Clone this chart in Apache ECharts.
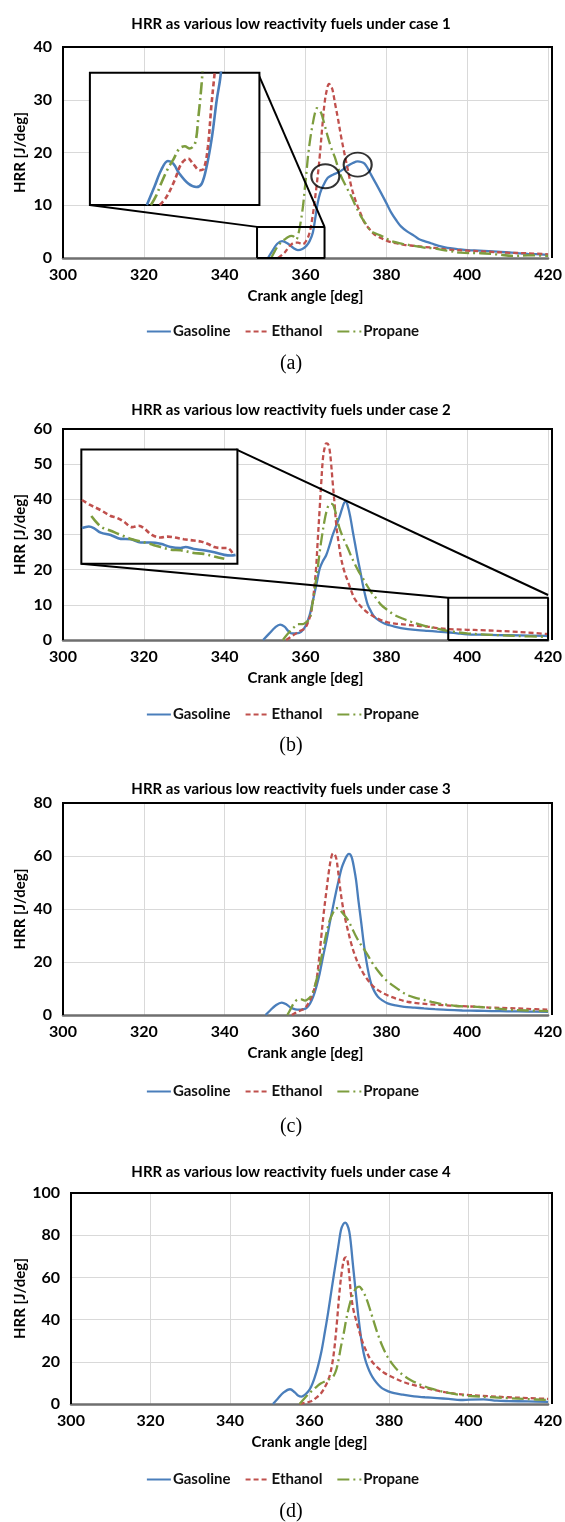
<!DOCTYPE html>
<html><head><meta charset="utf-8">
<script src="https://cdn.jsdelivr.net/npm/echarts@6/dist/echarts.min.js"></script>
<style>html,body{margin:0;padding:0;background:#fff}#c{width:565px;height:1522px}</style>
</head><body><div id="c"></div>
<script>
// ---------- tick / axis values ----------
const xTicks = [300, 320, 340, 360, 380, 400, 420];
const yMaxes = [40, 60, 80, 100];
const yIntervals = [10, 10, 20, 20];
const seriesNames = ['Gasoline', 'Ethanol', 'Propane'];
const titles = [
  'HRR as various low reactivity fuels under case 1',
  'HRR as various low reactivity fuels under case 2',
  'HRR as various low reactivity fuels under case 3',
  'HRR as various low reactivity fuels under case 4'
];
const panelLabels = ['(a)', '(b)', '(c)', '(d)'];

// ---------- case 1 ----------
const gasolineA = [[350.7,0],[352,1.6],[353,2.7],[354.2,3.2],[355.5,2.8],[357,1.9],[358.1,1.5],[359.2,1.7],[360.2,2.3],[361,3.2],[361.8,4.8],[362.4,7.5],[363,10.4],[363.6,12.3],[364.3,13.6],[365.5,15.2],[366.8,15.8],[368,16.2],[369.3,16.8],[370.5,17.5],[371.7,18.0],[372.9,18.3],[373.8,18.2],[374.6,17.9],[375.4,17.0],[376.2,15.8],[377.5,14.0],[378.7,12.3],[380,10.4],[381.2,8.6],[382.4,7.2],[383.6,6.0],[385.2,5.0],[386.9,4.2],[388,3.6],[389.4,3.2],[390.6,2.9],[391.8,2.6],[393.5,2.2],[395.1,1.9],[397.5,1.7],[400,1.5],[403,1.4],[407.5,1.2],[411,1.0],[415,0.8],[420,0.6]];
const ethanolA = [[353.2,0],[354.8,1.0],[355.7,1.9],[356.5,2.6],[357.3,2.9],[358.1,2.9],[359.3,2.6],[360.2,3.3],[361,4.8],[361.6,7.2],[362.2,10.4],[362.9,14.8],[363.5,19.2],[364.1,24.5],[364.7,29.3],[365.3,32.0],[365.8,33.0],[366.3,32.6],[366.7,31.8],[367.3,29.3],[368,26.5],[368.8,23.0],[369.6,19.9],[370.5,16.6],[371.3,13.6],[372.1,11.5],[372.9,9.8],[373.8,8.1],[374.6,6.7],[375.8,5.5],[377,4.5],[378.6,3.8],[380.3,3.2],[382.3,2.8],[384.4,2.5],[387,2.3],[389.4,2.1],[392,1.9],[395.1,1.6],[400,1.4],[405,1.2],[410,1.0],[415,0.9],[420,0.7]];
const propaneA = [[351.5,0],[352.4,1.3],[353.2,2.3],[354,3.0],[354.8,3.5],[355.7,4.0],[356.5,4.2],[357.2,4.0],[357.7,3.5],[358.3,4.8],[358.9,7.3],[359.4,10.0],[359.8,13.0],[360.2,16.0],[360.6,19.2],[361.2,22.8],[361.8,25.5],[362.3,27.4],[362.8,28.4],[363.3,28.2],[363.9,27.4],[364.7,25.3],[365.5,23.0],[366.3,21.0],[367.2,19.2],[368,17.3],[368.8,15.5],[370,13.6],[371.3,11.7],[372.5,9.7],[373.7,7.9],[375,6.4],[376.2,5.1],[377.5,4.6],[378.7,4.2],[380,3.7],[381.2,3.2],[384,2.7],[386.9,2.3],[389,2.0],[391.8,1.8],[395,1.4],[398.4,1.0],[403.3,0.9],[407,0.7],[411.6,0.4],[415,0.5],[420,0.4]];
// case 1 magnified inset (x 342-367, y 0-10)
const insetGasolineA = [[350.4,0],[351.5,1.36],[352.5,2.63],[353.5,3.33],[354.3,3.13],[355.2,2.37],[356.5,1.62],[357.7,1.36],[358.5,1.62],[359.2,2.88],[360,5.15],[360.7,7.93],[361.2,9.5],[361.5,11]];
const insetEthanolA = [[352.3,0],[353.3,0.61],[354.5,1.87],[355.5,3.13],[356.5,3.51],[357.2,3.13],[358.2,2.63],[358.8,2.75],[359.4,4.39],[359.9,7.42],[360.4,10],[360.6,11]];
const insetPropaneA = [[351.0,0],[351.8,0.73],[352.5,1.62],[353.5,2.75],[354.3,3.43],[355.2,4.27],[356.0,4.44],[356.7,4.27],[357.5,4.65],[358.0,6.67],[358.5,9.32],[358.7,11]];
const insetRangeA = [342, 367, 0, 10];
const insetBoxA = [306.6, 348.2, 10.05, 35.1];      // where the inset sits (data coords of main plot)
const zoomBoxA = [348, 364.7, 0, 5.9];               // region being magnified
const circlesA = [[364.9, 15.5], [372.9, 17.7]];

// ---------- case 2 ----------
const gasolineB = [[349.5,0],[351,1.8],[352.5,3.6],[353.7,4.4],[354.8,3.8],[355.7,2.6],[356.5,1.9],[357.8,1.9],[358.9,2.3],[360,4.0],[361,7.0],[361.6,10.0],[362.2,13.2],[362.9,17.0],[363.5,20.3],[364.3,22.5],[365.1,24.1],[365.9,26.8],[366.7,29.8],[367.6,32.5],[368.4,35.0],[369,37.2],[369.6,39.1],[370,39.3],[370.5,37.9],[371.1,34.8],[371.7,30.8],[372.3,27.0],[372.9,23.2],[373.6,19.2],[374.2,15.6],[374.8,12.5],[375.4,10.0],[376.2,8.1],[377,6.6],[378.2,5.5],[379.5,4.7],[380.8,4.2],[382,3.8],[383.6,3.4],[385.3,3.1],[387.8,2.8],[390.2,2.6],[392.6,2.4],[395.1,2.2],[397.5,1.9],[400,1.6],[403.5,1.5],[407.5,1.4],[413,1.3],[420,1.2]];
const ethanolB = [[355.2,0],[356.2,0.8],[357.3,1.6],[358.5,2.5],[359.8,3.3],[360.6,5.0],[361.4,8.0],[362,13.0],[362.6,20.3],[363,28.0],[363.5,37.4],[363.9,45.0],[364.3,51.6],[364.7,54.5],[365.1,55.9],[365.5,55.8],[365.9,54.5],[366.3,50.5],[366.7,45.0],[367.2,38.5],[367.6,32.7],[368.2,27.5],[368.8,23.2],[369.6,19.5],[370.5,16.6],[371.3,14.0],[372.1,11.8],[373.3,10.0],[374.6,8.5],[375.8,7.4],[377,6.6],[378.6,5.7],[380.3,5.0],[382.8,4.6],[385.3,4.3],[387.8,4.0],[390.2,3.8],[392.6,3.4],[395.1,3.1],[397.5,3.0],[400,2.9],[403.5,2.8],[407.5,2.6],[411,2.4],[415,2.1],[420,1.7]];
const propaneB = [[354.4,0],[355.2,1.2],[356.1,2.4],[357.1,3.6],[358.1,4.5],[359.3,4.5],[360.2,5.1],[361,6.0],[361.6,9.5],[362.2,14.0],[362.9,19.5],[363.5,25.0],[364.1,29.8],[364.7,34.0],[365.3,37.0],[365.9,38.6],[366.5,38.7],[367,38.0],[367.7,35.0],[368.4,31.8],[369.4,28.8],[370.5,26.0],[371.3,23.8],[372.1,21.8],[373.1,19.6],[374.2,17.5],[375.2,15.5],[376.2,13.7],[377.5,11.8],[378.7,10.0],[380.3,8.5],[382,7.1],[384,6.1],[386.1,5.2],[388,4.5],[390.2,3.8],[392.6,3.2],[395.1,2.6],[397.5,2.2],[400,1.9],[403.5,1.6],[407.5,1.4],[413,1.1],[420,0.9]];
// case 2 magnified inset (x 395-420, y 1-4.5)
const insetEthanolB = [[395.1,2.95],[396.4,2.80],[398.1,2.64],[399.7,2.46],[400.5,2.42],[401.8,2.29],[403.1,2.12],[404.2,2.16],[405.0,2.09],[406.3,1.88],[407.7,1.80],[408.8,1.83],[409.8,1.81],[411.4,1.75],[413.0,1.71],[414.1,1.68],[415.2,1.61],[416.3,1.51],[417.3,1.48],[418.4,1.48],[419.2,1.33]];
const insetGasolineB = [[395.1,2.09],[396.2,2.14],[397.0,2.09],[398.1,1.95],[399.7,1.88],[401.3,1.76],[402.9,1.75],[404.5,1.65],[406.1,1.65],[407.7,1.61],[409.3,1.51],[410.9,1.48],[411.7,1.51],[413.0,1.45],[414.6,1.41],[416.3,1.35],[417.9,1.27],[419.0,1.25],[419.7,1.27]];
const insetPropaneB = [[396.6,2.46],[398.1,2.14],[399.7,2.01],[401.3,1.88],[403.1,1.75],[405.5,1.63],[407.7,1.51],[409.3,1.43],[410.9,1.41],[413.0,1.33],[414.6,1.30],[416.3,1.22],[417.9,1.15]];
const insetRangeB = [395, 420, 1, 4.5];
const insetBoxB = [304.5, 342.8, 21.7, 54.2];
const zoomBoxB = [395.3, 420, 0, 12];
const connectorEndB = [420, 12.8];

// ---------- case 3 ----------
const gasolineC = [[350.1,0],[351.3,1.8],[352.5,3.5],[354.1,4.7],[355.3,4.0],[356.3,2.8],[357.5,2.1],[358.5,2.0],[359.4,2.2],[360.2,2.6],[361.1,4.3],[361.9,6.9],[362.7,10.8],[363.5,15.7],[364.3,21.8],[365.2,28.3],[366,34.8],[366.8,40.9],[367.6,46.8],[368.4,52.2],[369,55.8],[369.7,58.5],[370.2,60.0],[370.7,60.8],[371.1,60.5],[371.5,59.1],[372,55.5],[372.5,50.9],[373.1,43.0],[373.8,34.6],[374.4,27.0],[375,20.8],[375.6,15.8],[376.2,11.9],[377,9.0],[377.9,6.9],[379,5.5],[380.3,4.4],[382.3,3.6],[384.4,3.1],[387,2.8],[389.3,2.5],[392,2.2],[395.1,1.9],[398.8,1.7],[402.5,1.6],[406,1.5],[410,1.4],[415,1.3],[420,1.2]];
const ethanolC = [[356.6,0],[357.5,0.8],[358.6,1.6],[359.8,2.5],[360.6,4.2],[361.5,6.9],[362.1,9.5],[362.7,13.2],[363.3,20.5],[363.9,29.6],[364.5,38.5],[365.2,47.2],[365.8,54.5],[366.4,59.7],[366.8,61.0],[367.2,60.6],[367.6,59.1],[368,55.0],[368.4,49.7],[369,43.0],[369.7,37.1],[370.5,31.8],[371.3,27.0],[372.1,23.0],[373,19.5],[374.2,16.0],[375.4,13.2],[376.6,11.0],[377.9,9.4],[379.5,8.0],[381.1,6.9],[383,5.9],[385.2,5.0],[388,4.4],[391,4.0],[394,3.7],[397.5,3.4],[402.5,3.1],[406,2.8],[410,2.6],[415,2.3],[420,2.0]];
const propaneC = [[355.5,0],[356.3,2.2],[357.2,4.6],[358.2,5.9],[359,5.9],[359.8,5.4],[360.6,6.0],[361.5,7.5],[362.3,11.0],[363.1,15.7],[363.7,20.0],[364.3,24.5],[365.1,30.5],[366,35.8],[366.8,38.6],[367.6,40.3],[368.2,40.2],[368.9,39.0],[369.7,37.5],[370.5,35.8],[371.5,32.8],[372.5,29.6],[373.5,27.0],[374.6,24.5],[375.6,22.0],[376.6,19.5],[378,16.5],[379.5,13.8],[380.7,12.2],[382,10.7],[383.6,9.0],[385.2,7.5],[387.2,6.5],[389.3,5.7],[391.3,4.9],[393.4,4.2],[395.5,3.8],[397.5,3.4],[400,3.2],[402.5,3.1],[406,2.6],[410,2.0],[415,1.7],[420,1.5]];

// ---------- case 4 ----------
const gasolineD = [[350.8,0],[352,2.5],[353.5,5.5],[355.1,7.0],[356.3,5.5],[357.1,4.0],[358,3.5],[358.8,4.3],[359.6,5.8],[360.4,8.2],[361.2,12.0],[362.1,17.7],[363,25.0],[363.8,33.5],[364.6,42.5],[365.4,52.4],[366.1,61.0],[366.7,68.2],[367.3,75.5],[367.9,82.5],[368.5,85.3],[369,86.0],[369.5,84.8],[370,81.7],[370.4,76.0],[370.8,68.2],[371.4,57.0],[372.1,44.5],[372.7,35.0],[373.3,27.2],[373.9,21.8],[374.6,17.7],[375.4,14.2],[376.3,11.4],[377.3,9.1],[378.3,7.4],[379.8,6.0],[381.3,5.1],[383.5,4.4],[386.3,3.6],[389,3.2],[392.1,2.8],[395,2.4],[398,1.9],[400.4,2.1],[403.8,2.2],[407.1,1.6],[410,1.4],[415,1.2],[420,1.0]];
const ethanolD = [[357.5,0],[359,0.6],[360.4,1.3],[361.7,3.0],[362.9,5.1],[364,8.5],[365,13.0],[365.7,19.0],[366.3,27.2],[366.9,39.0],[367.5,52.4],[368.1,62.5],[368.75,69.0],[369.2,69.5],[369.6,67.5],[370,61.0],[370.4,52.4],[371,45.0],[371.7,39.8],[372.5,34.5],[373.3,29.5],[374.3,25.0],[375.4,20.9],[377,17.5],[378.75,14.8],[380.5,13.0],[382.1,11.6],[384,10.2],[386.3,8.9],[388.5,7.8],[391,6.8],[394,5.6],[397,4.8],[400,4.3],[405,3.7],[410,3.2],[415,2.8],[420,2.4]];
const propaneD = [[357.5,0],[358.75,2.7],[359.8,4.8],[360.8,6.6],[361.9,8.4],[362.9,9.8],[364.2,11.0],[365.4,12.2],[366.1,13.5],[366.7,16.1],[367.3,21.0],[367.9,27.2],[368.6,33.5],[369.2,39.8],[369.8,45.0],[370.4,49.3],[371,52.3],[371.7,54.8],[372.5,55.6],[373.1,54.5],[373.75,52.4],[374.4,49.5],[375,46.1],[376,40.0],[377.1,33.5],[378.3,27.5],[379.6,22.4],[380.8,19.0],[382.1,16.1],[383.7,13.5],[385.4,11.4],[387.8,9.2],[390.4,7.4],[393,6.1],[395.4,5.1],[398,4.3],[400.4,3.8],[405,3.3],[410,2.8],[415,2.3],[420,1.9]];

// ---------- layout / style ----------
const FONT = 'Lato, "Open Sans", sans-serif';
const COLORS = ['#4a7ebb', '#c0504d', '#7d9d3e'];
const DASH = ['solid', [5, 3], [12, 4, 2, 4]];
const LW = 2.3;
const grids = [
  {left: 63, top: 47,   width: 489, height: 211},
  {left: 63, top: 429,  width: 489, height: 211},
  {left: 63, top: 803,  width: 489, height: 212},
  {left: 71, top: 1193, width: 481, height: 211}
];
const titleY = [12, 398, 777, 1160];
const legendY = [319, 702, 1079, 1467];
const labelY = [349, 731, 1112, 1497];
const panelData = [[gasolineA, ethanolA, propaneA], [gasolineB, ethanolB, propaneB], [gasolineC, ethanolC, propaneC], [gasolineD, ethanolD, propaneD]];

function toPx(g, ymax, x, y) {
  return [g.left + (x - xTicks[0]) / (xTicks[xTicks.length - 1] - xTicks[0]) * g.width,
          g.top + (ymax - y) / ymax * g.height];
}

const option = {
  animation: false,
  backgroundColor: '#fff',
  title: [], legend: [], grid: [], xAxis: [], yAxis: [], series: [], graphic: []
};

const axisText = {fontFamily: FONT, fontWeight: 'bold', color: '#000'};

grids.forEach((g, i) => {
  option.grid.push({left: g.left, top: g.top, width: g.width, height: g.height, show: false});
  option.xAxis.push({
    gridIndex: i, type: 'value', min: xTicks[0], max: xTicks[xTicks.length - 1], interval: 20,
    axisLine: {show: true, onZero: false, lineStyle: {color: '#6f6f6f', width: 2.5}},
    axisTick: {show: false},
    axisLabel: Object.assign({fontSize: 16, margin: 9}, axisText),
    splitLine: {show: true, lineStyle: {color: '#d9d9d9', width: 1}},
    name: 'Crank angle [deg]', nameLocation: 'middle', nameGap: 31, nameMoveOverlap: false,
    nameTextStyle: Object.assign({fontSize: 15}, axisText)
  });
  option.yAxis.push({
    gridIndex: i, type: 'value', min: 0, max: yMaxes[i], interval: yIntervals[i],
    axisLine: {show: false}, axisTick: {show: false},
    axisLabel: Object.assign({fontSize: 16, margin: 11}, axisText),
    splitLine: {show: true, lineStyle: {color: '#d9d9d9', width: 1}},
    name: 'HRR [J/deg]', nameLocation: 'middle', nameGap: g.left - 28, nameMoveOverlap: false,
    nameTextStyle: Object.assign({fontSize: 15}, axisText)
  });
  option.title.push({
    text: titles[i], left: 286, top: titleY[i], textAlign: 'center',
    textStyle: {fontFamily: FONT, fontWeight: 'bold', fontSize: 15, color: '#000'}
  });
  option.title.push({
    text: panelLabels[i], left: 286, top: labelY[i], textAlign: 'center',
    textStyle: {fontFamily: '"Liberation Serif", "Times New Roman", serif', fontWeight: 'normal', fontSize: 20, color: '#000'}
  });
  option.legend.push({
    data: seriesNames, top: legendY[i], left: 'center', itemWidth: 24, itemHeight: 12, itemGap: 14,
    selectedMode: false,
    itemStyle: {color: 'rgba(0,0,0,0)', borderColor: 'rgba(0,0,0,0)', borderWidth: 0, opacity: 0},
    textStyle: {fontFamily: FONT, fontWeight: 'bold', fontSize: 15, color: '#111', padding: [0, 0, 0, -3]}
  });
  panelData[i].forEach((d, k) => {
    option.series.push({
      type: 'line', name: seriesNames[k], data: d, xAxisIndex: i, yAxisIndex: i,
      symbol: 'none', showSymbol: false, smooth: 0.35, z: 3,
      lineStyle: {color: COLORS[k], width: LW, type: DASH[k]}, itemStyle: {color: COLORS[k]}
    });
  });
  // plot frame (left, top, right)
  const p0 = toPx(g, yMaxes[i], 300, 0), p1 = toPx(g, yMaxes[i], 420, yMaxes[i]);
  option.graphic.push({
    type: 'polyline', z: 20, silent: true,
    shape: {points: [[p0[0], p0[1]], [p0[0], p1[1]], [p1[0], p1[1]], [p1[0], p0[1]]]},
    style: {stroke: '#000', lineWidth: 2, fill: null}
  });
});

function blackLine(gi, data, z) {
  option.series.push({
    type: 'line', data: data, xAxisIndex: gi, yAxisIndex: gi, symbol: 'none', silent: true,
    clip: false, z: z || 6, lineStyle: {color: '#000', width: 2, type: 'solid'}, tooltip: {show: false}
  });
}

function addInset(gi, box, range, zoomBox, insetSets, connA, connB) {
  const g = grids[gi], ym = yMaxes[gi];
  const tl = toPx(g, ym, box[0], box[3]), br = toPx(g, ym, box[1], box[2]);
  const idx = option.grid.length;
  option.grid.push({left: tl[0], top: tl[1], width: br[0] - tl[0], height: br[1] - tl[1],
    show: true, backgroundColor: '#fff', borderColor: '#000', borderWidth: 2, z: 10});
  option.xAxis.push({gridIndex: idx, type: 'value', min: range[0], max: range[1], show: false, splitLine: {show: false}});
  option.yAxis.push({gridIndex: idx, type: 'value', min: range[2], max: range[3], show: false, splitLine: {show: false}});
  insetSets.forEach((d, k) => {
    option.series.push({
      type: 'line', name: seriesNames[k] + ' (inset)', data: d, xAxisIndex: idx, yAxisIndex: idx,
      symbol: 'none', smooth: 0.35, z: 12, clip: true,
      lineStyle: {color: COLORS[k], width: 2.6, type: DASH[k]}
    });
  });
  blackLine(gi, [[zoomBox[0], zoomBox[2]], [zoomBox[0], zoomBox[3]], [zoomBox[1], zoomBox[3]], [zoomBox[1], zoomBox[2]], [zoomBox[0], zoomBox[2]]]);
  blackLine(gi, connA);
  blackLine(gi, connB);
}

addInset(0, insetBoxA, insetRangeA, zoomBoxA, [insetGasolineA, insetEthanolA, insetPropaneA],
  [[insetBoxA[0], insetBoxA[2]], [zoomBoxA[0], zoomBoxA[3]]],
  [[insetBoxA[1], insetBoxA[3]], [zoomBoxA[1], zoomBoxA[3]]]);
addInset(1, insetBoxB, insetRangeB, zoomBoxB, [insetGasolineB, insetEthanolB, insetPropaneB],
  [[insetBoxB[0], insetBoxB[2]], [zoomBoxB[0], zoomBoxB[3]]],
  [[insetBoxB[1], insetBoxB[3]], connectorEndB]);

// circles in case 1
option.series.push({
  type: 'scatter', data: circlesA, xAxisIndex: 0, yAxisIndex: 0, symbol: 'circle', symbolSize: [28, 24],
  z: 8, silent: true, itemStyle: {color: 'rgba(0,0,0,0)', borderColor: '#000', borderWidth: 2}
});

const chart = echarts.init(document.getElementById('c'), null, {renderer: 'canvas'});
chart.setOption(option);
</script></body></html>
